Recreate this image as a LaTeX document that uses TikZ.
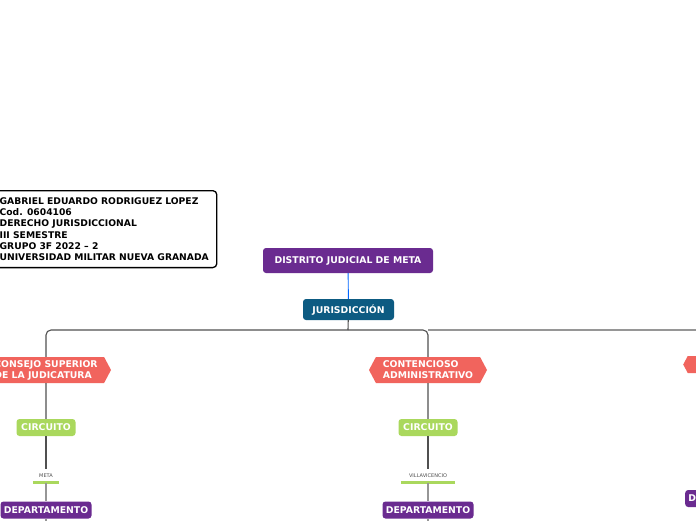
\documentclass[tikz,border=0pt]{standalone}
\usepackage{fontspec}
\setmainfont{DejaVu Sans}
\usepackage{tikz}
\usetikzlibrary{shapes.symbols, arrows}
\definecolor{lila}{HTML}{6A2B90}
\definecolor{petrol}{HTML}{0D5B82}
\definecolor{coral}{HTML}{F1645D}
\definecolor{lima}{HTML}{AAD85D}
\definecolor{linea}{HTML}{505050}
\tikzstyle{caja} = [rounded corners=3pt,text=white,font=\bfseries\fontsize{9.3}{10}\selectfont,inner sep=0pt,text depth=.6pt]
\tikzstyle{senal} = [signal,signal to=east and west,signal pointer angle=124,fill=coral,text=white,align=left,font=\bfseries\fontsize{9.3}{11}\selectfont,inner sep=0pt]
\tikzstyle{sub} = [font=\fontsize{5}{5}\selectfont,text=black!70,inner ysep=4.5pt,inner xsep=0pt]
\tikzstyle{barra} = [lima,line width=2.6pt]
\tikzstyle{conn} = [linea,line width=1.1pt]
\begin{document}
\begin{tikzpicture}[x=1pt,y=-1pt]
      \clip(0,0)rectangle(696,520);
      \fill[white](0,0)rectangle(696,520);
      \node[draw=black,line width=1.3pt,rounded corners=4pt,align=left,anchor=north west,inner xsep=8pt,inner ysep=7pt,font=\bfseries\fontsize{9.2}{11.2}\selectfont](autor)at(-9,190){GABRIEL EDUARDO RODRIGUEZ LOPEZ\\Cod. 0604106\\DERECHO JURISDICCIONAL\\III SEMESTRE\\GRUPO 3F 2022 -- 2\\UNIVERSIDAD MILITAR NUEVA GRANADA};
      \node[caja,fill=lila,minimum width=170pt,minimum height=25pt](distrito)at(348,260.5){DISTRITO JUDICIAL DE META};
      \node[caja,fill=petrol,minimum width=91pt,minimum height=21pt](jur)at(348.5,309.5){JURISDICCI\'ON};
      \coordinate(bus)at(348,330);
      \draw[blue!60!cyan,line width=.9pt](distrito)--(jur);
      % ramas
      \node[senal,minimum width=130pt,minimum height=26pt](consejo)at(46,370){CONSEJO SUPERIOR\\DE LA JUDICATURA};
      \node[senal,minimum width=118pt,minimum height=26pt](conten)at(428,370){CONTENCIOSO\\ADMINISTRATIVO};
      \node[senal,minimum width=120pt,minimum height=17pt,anchor=west](tercera)at(683,364.5){};
      \draw[conn](jur)--(bus);
      \draw[conn,rounded corners=5pt](consejo)|-(bus)-|(conten);
      \draw[linea!60,line width=1.1pt](conten.north|-bus)--(696,330);
      % circuitos
      \foreach \n/\x/\lugar/\ancho in {a/46/META/26,b/428/VILLAVICENCIO/54}{
        \node[caja,fill=lima,minimum width=59pt,minimum height=17pt](circ\n)at(\x,427.5){CIRCUITO};
        \node[sub,minimum width=\ancho pt](lug\n)at(\x,476){\lugar};
        \draw[barra](lug\n.south west)--(lug\n.south east);
        \node[caja,fill=lila,minimum width=91pt,minimum height=17pt](dep\n)at(\x,510){DEPARTAMENTO};
        \draw[conn](circ\n)--(lug\n.north);
        \draw[linea!60,line width=1.1pt](lug\n.south)--(dep\n);
        \draw[linea!60,line width=1.1pt](dep\n)--++(0,20);
      }
      \draw[conn](consejo)--(circa);
      \draw[conn](conten)--(circb);
      \node[caja,fill=lila,minimum width=91pt,minimum height=17pt,anchor=west](depc)at(685,498.5){DEPARTAMENTO};
\end{tikzpicture}
\end{document}
